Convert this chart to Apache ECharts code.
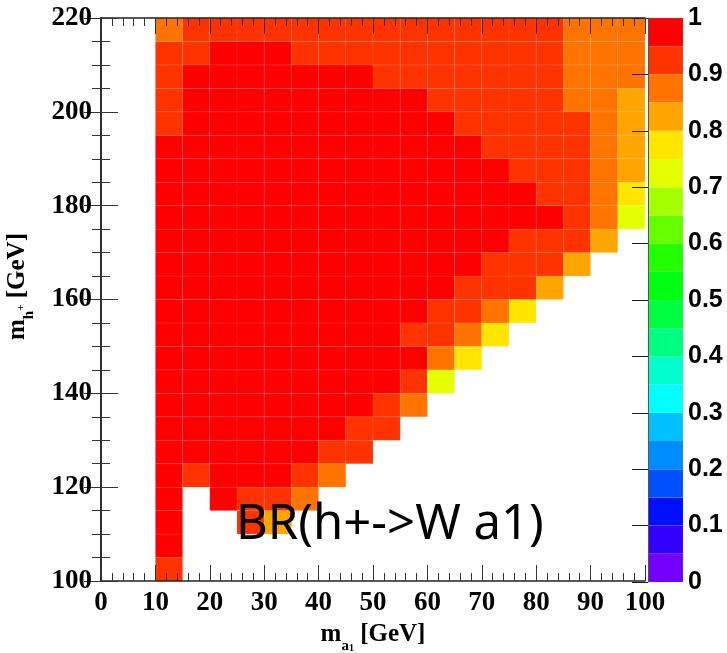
<!DOCTYPE html>
<html>
<head>
<meta charset="utf-8">
<script src="https://cdn.jsdelivr.net/npm/echarts@6/dist/echarts.min.js"></script>
<style>
html,body{margin:0;padding:0;background:#fff;}
#chart{width:727px;height:653px;}
</style>
</head>
<body>
<div id="chart"></div>
<script>
// bin lower edges
const xBins = [10, 15, 20, 25, 30, 35, 40, 45, 50, 55, 60, 65, 70, 75, 80, 85, 90, 95];
const yBins = [100, 105, 110, 115, 120, 125, 130, 135, 140, 145, 150, 155, 160, 165, 170, 175, 180, 185, 190, 195, 200, 205, 210, 215];
const binW = 5, binH = 5;

// BR(h+ -> W a1) values, one row per m_h+ bin (bottom to top), columns follow xBins
const row100 = [0.92, null, null, null, null, null, null, null, null, null, null, null, null, null, null, null, null, null];
const row105 = [0.97, null, null, null, null, null, null, null, null, null, null, null, null, null, null, null, null, null];
const row110 = [0.97, null, null, 0.92, 0.82, null, null, null, null, null, null, null, null, null, null, null, null, null];
const row115 = [0.97, null, 0.97, 0.92, 0.92, 0.87, null, null, null, null, null, null, null, null, null, null, null, null];
const row120 = [0.97, 0.92, 0.97, 0.97, 0.97, 0.92, 0.87, null, null, null, null, null, null, null, null, null, null, null];
const row125 = [0.97, 0.97, 0.97, 0.97, 0.97, 0.97, 0.92, 0.92, null, null, null, null, null, null, null, null, null, null];
const row130 = [0.97, 0.97, 0.97, 0.97, 0.97, 0.97, 0.97, 0.92, 0.92, null, null, null, null, null, null, null, null, null];
const row135 = [0.97, 0.97, 0.97, 0.97, 0.97, 0.97, 0.97, 0.97, 0.92, 0.87, null, null, null, null, null, null, null, null];
const row140 = [0.97, 0.97, 0.97, 0.97, 0.97, 0.97, 0.97, 0.97, 0.97, 0.92, 0.72, null, null, null, null, null, null, null];
const row145 = [0.97, 0.97, 0.97, 0.97, 0.97, 0.97, 0.97, 0.97, 0.97, 0.97, 0.87, 0.77, null, null, null, null, null, null];
const row150 = [0.97, 0.97, 0.97, 0.97, 0.97, 0.97, 0.97, 0.97, 0.97, 0.92, 0.92, 0.87, 0.77, null, null, null, null, null];
const row155 = [0.97, 0.97, 0.97, 0.97, 0.97, 0.97, 0.97, 0.97, 0.97, 0.97, 0.92, 0.92, 0.87, 0.77, null, null, null, null];
const row160 = [0.97, 0.97, 0.97, 0.97, 0.97, 0.97, 0.97, 0.97, 0.97, 0.97, 0.97, 0.92, 0.92, 0.92, 0.82, null, null, null];
const row165 = [0.97, 0.97, 0.97, 0.97, 0.97, 0.97, 0.97, 0.97, 0.97, 0.97, 0.97, 0.97, 0.92, 0.92, 0.92, 0.82, null, null];
const row170 = [0.97, 0.97, 0.97, 0.97, 0.97, 0.97, 0.97, 0.97, 0.97, 0.97, 0.97, 0.97, 0.97, 0.92, 0.92, 0.92, 0.82, null];
const row175 = [0.97, 0.97, 0.97, 0.97, 0.97, 0.97, 0.97, 0.97, 0.97, 0.97, 0.97, 0.97, 0.97, 0.97, 0.97, 0.92, 0.87, 0.72];
const row180 = [0.97, 0.97, 0.97, 0.97, 0.97, 0.97, 0.97, 0.97, 0.97, 0.97, 0.97, 0.97, 0.97, 0.97, 0.92, 0.92, 0.87, 0.77];
const row185 = [0.97, 0.97, 0.97, 0.97, 0.97, 0.97, 0.97, 0.97, 0.97, 0.97, 0.97, 0.97, 0.97, 0.92, 0.92, 0.92, 0.87, 0.82];
const row190 = [0.97, 0.97, 0.97, 0.97, 0.97, 0.97, 0.97, 0.97, 0.97, 0.97, 0.97, 0.97, 0.92, 0.92, 0.92, 0.92, 0.87, 0.82];
const row195 = [0.92, 0.97, 0.97, 0.97, 0.97, 0.97, 0.97, 0.97, 0.97, 0.97, 0.97, 0.92, 0.92, 0.92, 0.92, 0.92, 0.87, 0.82];
const row200 = [0.92, 0.97, 0.97, 0.97, 0.97, 0.97, 0.97, 0.97, 0.97, 0.97, 0.92, 0.92, 0.92, 0.92, 0.92, 0.87, 0.87, 0.82];
const row205 = [0.92, 0.97, 0.97, 0.97, 0.97, 0.97, 0.97, 0.97, 0.92, 0.92, 0.92, 0.92, 0.92, 0.92, 0.92, 0.87, 0.87, 0.87];
const row210 = [0.92, 0.92, 0.97, 0.97, 0.97, 0.92, 0.92, 0.92, 0.92, 0.92, 0.92, 0.92, 0.92, 0.92, 0.92, 0.87, 0.87, 0.87];
const row215 = [0.87, 0.92, 0.92, 0.92, 0.92, 0.92, 0.92, 0.92, 0.92, 0.92, 0.92, 0.92, 0.92, 0.92, 0.92, 0.87, 0.87, 0.87];
const brRows = [row100, row105, row110, row115, row120, row125, row130, row135, row140, row145, row150, row155,
                row160, row165, row170, row175, row180, row185, row190, row195, row200, row205, row210, row215];

// colour scale (20 levels, 0 -> 1)
const colorLevels = [0, 0.05, 0.1, 0.15, 0.2, 0.25, 0.3, 0.35, 0.4, 0.45, 0.5, 0.55, 0.6, 0.65, 0.7, 0.75, 0.8, 0.85, 0.9, 0.95];
const palette = ['#7300ff', '#3300ff', '#0010ff', '#0050ff', '#008cff', '#00c0ff', '#00ffff', '#00ffcc', '#00ff80', '#00ff40',
                 '#00ff10', '#22ff00', '#65ff00', '#a5ff00', '#e3ff00', '#ffe600', '#ffa500', '#ff7300', '#ff3300', '#ff0000'];

function colorFor(v) {
  let idx = 0;
  for (let i = 0; i < colorLevels.length; i++) { if (v >= colorLevels[i]) idx = i; }
  return palette[idx];
}

const heatData = [];
brRows.forEach((row, j) => {
  row.forEach((v, i) => {
    if (v !== null) heatData.push([xBins[i], yBins[j], v]);
  });
});

const serifBold = {fontFamily: 'Liberation Serif', fontWeight: 'bold', color: '#000'};
const axisLineStyle = {lineStyle: {color: '#222', width: 1.5}};
const titleRich = {
  b: {fontFamily: 'Liberation Serif', fontWeight: 'bold', fontSize: 25, color: '#000', lineHeight: 32, verticalAlign: 'top'},
  s: {fontFamily: 'Liberation Serif', fontWeight: 'bold', fontSize: 15, color: '#000', verticalAlign: 'bottom'},
  ss: {fontFamily: 'Liberation Serif', fontWeight: 'bold', fontSize: 10, color: '#000', verticalAlign: 'bottom'},
  p: {fontFamily: 'Liberation Serif', fontWeight: 'bold', fontSize: 11, color: '#000', verticalAlign: 'middle'}
};

const chart = echarts.init(document.getElementById('chart'), null, {renderer: 'canvas'});
chart.setOption({
  animation: false,
  backgroundColor: '#fff',
  grid: [
    {left: 101, top: 18, width: 544, height: 563, containLabel: false, outerBoundsMode: 'none'},
    {left: 648, top: 18, width: 35, height: 564, containLabel: false, outerBoundsMode: 'none'}
  ],
  xAxis: [
    {
      gridIndex: 0, type: 'value', min: 0, max: 100, interval: 10, position: 'bottom', z: 10,
      axisLine: axisLineStyle,
      axisTick: {inside: true, length: 16, lineStyle: {color: '#333', width: 1}},
      minorTick: {show: true, splitNumber: 5, length: 8, lineStyle: {color: '#333', width: 1}},
      splitLine: {show: false},
      axisLabel: Object.assign({fontSize: 27, margin: 9}, serifBold),
      name: '{b|m}{s|a}{ss|1}{b| [GeV]}',
      nameLocation: 'middle', nameGap: 40,
      nameTextStyle: {rich: titleRich}
    },
    {
      gridIndex: 0, type: 'value', min: 0, max: 100, interval: 10, position: 'top', z: 10,
      axisLine: axisLineStyle,
      axisTick: {inside: true, length: 16, lineStyle: {color: '#333', width: 1}},
      minorTick: {show: true, splitNumber: 5, length: 8, lineStyle: {color: '#333', width: 1}},
      splitLine: {show: false},
      axisLabel: {show: false}
    },
    {gridIndex: 1, type: 'value', min: 0, max: 1, show: false}
  ],
  yAxis: [
    {
      gridIndex: 0, type: 'value', min: 100, max: 220, interval: 20, position: 'left', z: 10,
      axisLine: axisLineStyle,
      axisTick: {inside: true, length: 17, lineStyle: {color: '#333', width: 1}},
      minorTick: {show: true, splitNumber: 4, length: 9, lineStyle: {color: '#333', width: 1}},
      splitLine: {show: false},
      axisLabel: Object.assign({fontSize: 27, margin: 9}, serifBold),
      name: '{b|m}{s|h}{p|+}{b| [GeV]}',
      nameLocation: 'middle', nameGap: 64, nameRotate: 90,
      nameTextStyle: {rich: titleRich, padding: [0, 0, 0, 26]}
    },
    {
      gridIndex: 0, type: 'value', min: 100, max: 220, interval: 20, position: 'right', z: 10,
      axisLine: axisLineStyle,
      axisTick: {inside: true, length: 17, lineStyle: {color: '#333', width: 1}},
      minorTick: {show: true, splitNumber: 4, length: 9, lineStyle: {color: '#333', width: 1}},
      splitLine: {show: false},
      axisLabel: {show: false}
    },
    {
      gridIndex: 1, type: 'value', min: 0, max: 1, interval: 0.1, position: 'right', z: 10,
      axisLine: {show: true, lineStyle: {color: '#555', width: 1}},
      axisTick: {inside: true, length: 16, lineStyle: {color: '#222', width: 1}},
      splitLine: {show: false},
      axisLabel: {fontFamily: 'Liberation Sans', fontWeight: 'bold', fontSize: 25, color: '#000', margin: 5,
        formatter: v => String(Math.round(v * 10) / 10)}
    }
  ],
  series: [
    {
      type: 'custom', xAxisIndex: 0, yAxisIndex: 0, z: 2, clip: true,
      data: heatData,
      renderItem: function (params, api) {
        const x0 = api.value(0), y0 = api.value(1), v = api.value(2);
        const p0 = api.coord([x0, y0 + binH]);
        const p1 = api.coord([x0 + binW, y0]);
        return {
          type: 'rect',
          shape: {x: p0[0], y: p0[1], width: p1[0] - p0[0], height: p1[1] - p0[1]},
          style: {fill: colorFor(v), stroke: 'rgba(255,255,255,0.12)', lineWidth: 0.6}
        };
      }
    },
    {
      type: 'custom', xAxisIndex: 2, yAxisIndex: 2, z: 2,
      data: colorLevels.map((lv, i) => [lv, i]),
      renderItem: function (params, api) {
        const lv = api.value(0), i = api.value(1);
        const p0 = api.coord([0, lv + 0.05]);
        const p1 = api.coord([1, lv]);
        return {
          type: 'rect',
          shape: {x: p0[0], y: p0[1], width: p1[0] - p0[0], height: p1[1] - p0[1]},
          style: {fill: palette[i], stroke: 'rgba(255,255,255,0.12)', lineWidth: 0.5}
        };
      }
    }
  ],
  graphic: [
    {
      type: 'text', x: 236, y: 525, z: 20,
      style: {text: 'BR(h+->W a1)', font: '49px "Noto Sans"', fill: '#000', verticalAlign: 'middle', align: 'left'}
    }
  ]
});
</script>
</body>
</html>
